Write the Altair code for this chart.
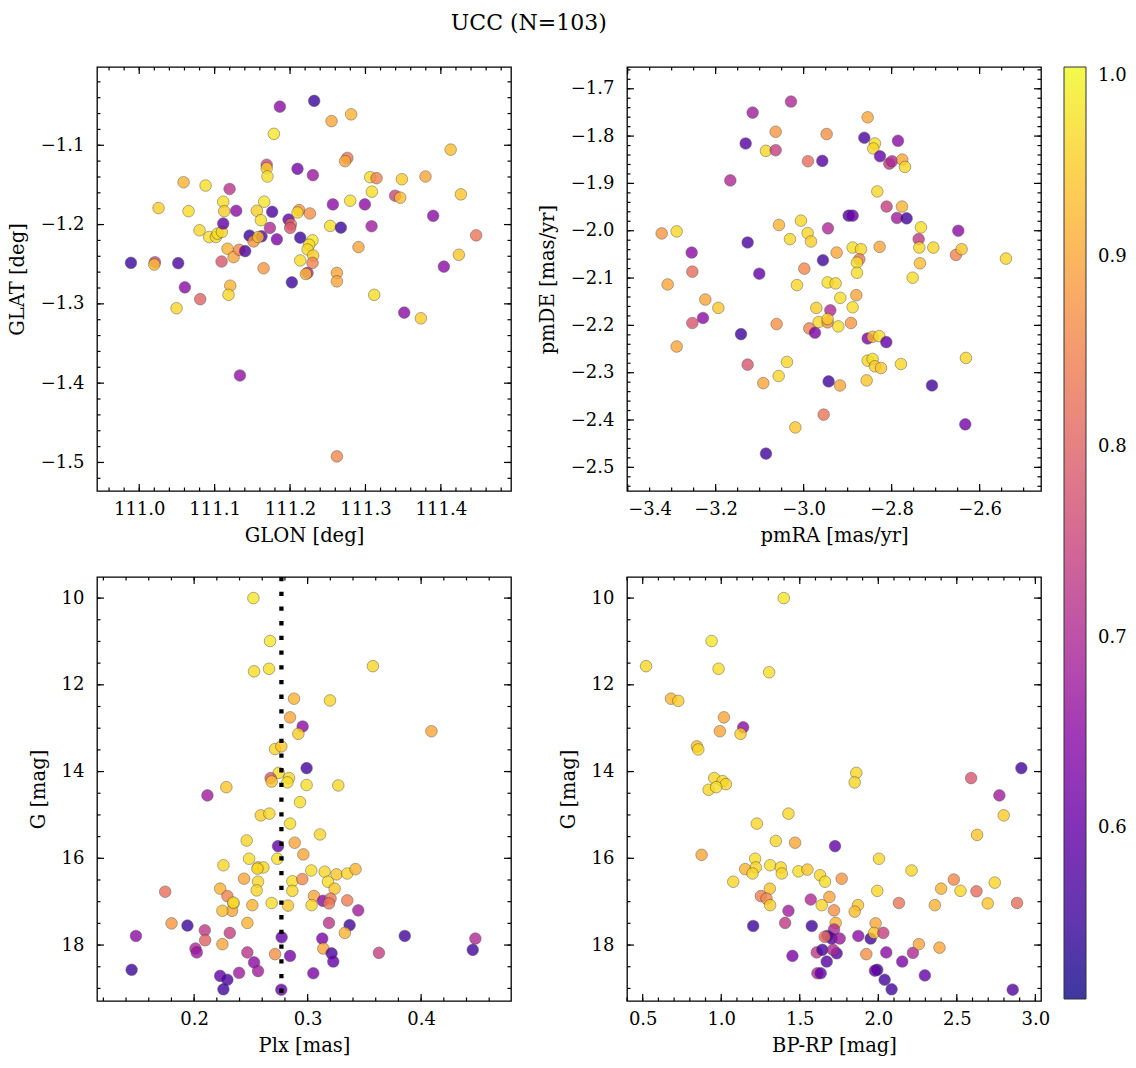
import altair as alt
import pandas as pd
import numpy as np

FONT = "DejaVu Serif"

# ---------------- Panel 1: GLON / GLAT ----------------
glon = [111.1865, 111.232, 111.255, 111.281, 111.1786, 111.413, 111.276, 111.273, 111.169, 111.169,
        111.170, 111.2099, 111.2303, 111.0588, 111.088, 111.1198, 111.3063, 111.3147, 111.3483, 111.3796,
        111.3085, 111.4265, 111.3394, 111.3461, 111.0256, 111.0654, 111.1114, 111.1127, 111.1286, 111.156,
        111.1657, 111.1763, 111.1613, 111.1733, 111.1825, 111.198, 111.2011, 111.2002, 111.2121, 111.2099,
        111.2263, 111.2135, 111.2532, 111.2674, 111.2568, 111.2798, 111.2992, 111.3081, 111.3898, 111.4468,
        111.2908, 111.4238, 111.404, 110.989, 111.0208, 111.0199, 111.0517, 111.08, 111.0928, 111.1017,
        111.1039, 111.1096, 111.1114, 111.1171, 111.1251, 111.1326, 111.1405, 111.1092, 111.1463, 111.1516,
        111.1622, 111.1578, 111.1649, 111.2024, 111.0605, 111.0809, 111.0495, 111.1207, 111.1184, 111.1335,
        111.2232, 111.221, 111.2621, 111.2621, 111.3116, 111.3514, 111.3735, 111.2621, 111.2298, 111.2254,
        111.2232, 111.2307, 111.2135, 111.2298]
glat = [-1.0513, -1.044, -1.0695, -1.061, -1.0856, -1.1055, -1.116, -1.120, -1.1246, -1.129,
        -1.1394, -1.1297, -1.1377, -1.1466, -1.1508, -1.1551, -1.1403, -1.1415, -1.1428, -1.1394,
        -1.1585, -1.1619, -1.1636, -1.1661, -1.1792, -1.1831, -1.1712, -1.1831, -1.1826, -1.1826,
        -1.1712, -1.1839, -1.1945, -1.2042, -1.2186, -1.1936, -1.1996, -1.2042, -1.1818, -1.1848,
        -1.186, -1.2165, -1.2017, -1.2038, -1.1746, -1.1699, -1.1746, -1.2021, -1.189, -1.2136,
        -1.2284, -1.2381, -1.253, -1.2483, -1.2475, -1.2504, -1.2487, -1.2072, -1.2157, -1.2157,
        -1.2114, -1.2093, -1.1987, -1.2305, -1.2411, -1.2318, -1.2335, -1.2466, -1.214, -1.2212,
        -1.2148, -1.2157, -1.2551, -1.2729, -1.2792, -1.2941, -1.3055, -1.2771, -1.2886, -1.3903,
        -1.261, -1.2623, -1.261, -1.2716, -1.2886, -1.311, -1.3182, -1.4924, -1.2199, -1.2254,
        -1.2314, -1.2390, -1.2453, -1.2483]
prob_pos = [0.65, 0.55, 0.90, 0.92, 0.98, 0.93, 0.83, 0.90, 0.75, 0.95,
            0.97, 0.62, 0.67, 0.92, 0.97, 0.72, 0.97, 0.85, 0.95, 0.90,
            0.97, 0.94, 0.75, 0.93, 0.95, 0.97, 0.97, 0.95, 0.65, 0.95,
            0.98, 0.57, 0.97, 0.70, 0.63, 0.60, 0.82, 0.78, 0.88, 0.96,
            0.87, 0.55, 0.97, 0.55, 0.65, 0.97, 0.65, 0.68, 0.65, 0.83,
            0.90, 0.94, 0.65, 0.55, 0.75, 0.93, 0.57, 0.96, 0.97, 0.96,
            0.97, 0.96, 0.60, 0.92, 0.90, 0.86, 0.57, 0.78, 0.55, 0.88,
            0.58, 0.93, 0.88, 0.55, 0.65, 0.80, 0.96, 0.92, 0.96, 0.66,
            0.70, 0.92, 0.90, 0.90, 0.97, 0.65, 0.95, 0.86, 0.98, 0.97,
            0.96, 0.95, 0.97, 0.85]

# ---------------- Panel 2: pmRA / pmDE ----------------
pmra = [-3.0288, -3.1159, -2.8545, -3.0636, -2.9477, -3.1318, -3.0856, -3.0636, -2.9902, -2.9576,
        -2.8621, -2.8379, -2.8417, -2.8265, -2.7856, -2.8053, -2.7992, -2.7758, -2.7697, -3.1667,
        -2.8326, -2.8114, -2.7765, -2.8977, -2.8886, -2.7879, -2.7659, -2.7333, -3.3227, -3.2886,
        -3.1273, -3.0561, -3.0061, -3.0311, -2.9909, -2.9833, -2.9447, -3.2545, -2.7386, -2.7371,
        -2.7053, -2.6485, -2.6538, -2.6409, -2.5402, -2.925, -2.8886, -2.8697, -2.8273, -2.7356,
        -2.9561, -2.8735, -2.8788, -3.253, -2.9985, -3.1008, -2.8788, -2.7523, -3.3091, -3.0152,
        -2.9455, -2.9273, -3.2235, -3.1939, -2.9167, -2.8803, -2.9712, -2.9394, -2.8886, -3.253,
        -3.2288, -3.0614, -3.1424, -3.2886, -2.9871, -2.9742, -2.9659, -2.9455, -2.9455, -2.9212,
        -2.8924, -2.8545, -2.8432, -2.8280, -2.8121, -2.8545, -2.8432, -2.8379, -2.8242, -2.7788,
        -2.8568, -2.9432, -2.9174, -2.7083, -2.6311, -2.6326, -3.0379, -3.0568, -3.0917, -3.1273,
        -2.9545, -3.0189, -3.0856]
pmde = [-1.727, -1.7504, -1.7603, -1.7908, -1.7957, -1.8156, -1.8312, -1.8298, -1.8532, -1.8525,
        -1.8035, -1.8156, -1.8262, -1.8426, -1.8099, -1.8582, -1.8532, -1.8496, -1.8652, -1.8936,
        -1.917, -1.9489, -1.9489, -1.9681, -1.9681, -1.9730, -1.9738, -1.9929, -2.0057, -2.0014,
        -2.0248, -1.9879, -1.9787, -2.0177, -2.005, -2.0227, -1.995, -2.0461, -2.0177, -2.0355,
        -2.0355, -2.0, -2.0511, -2.039, -2.0589, -2.0461, -2.0355, -2.039, -2.034, -2.0688,
        -2.0624, -2.0603, -2.0674, -2.0865, -2.0801, -2.0908, -2.0887, -2.0993, -2.1135, -2.1149,
        -2.1092, -2.1113, -2.1454, -2.1631, -2.1418, -2.1362, -2.1631, -2.1681, -2.1617, -2.195,
        -2.1844, -2.1972, -2.2185, -2.2447, -2.2064, -2.2156, -2.1929, -2.1936, -2.1865, -2.2021,
        -2.195, -2.2277, -2.2241, -2.2227, -2.2355, -2.2745, -2.271, -2.2865, -2.2901, -2.2816,
        -2.3163, -2.3184, -2.3270, -2.3270, -2.2688, -2.4092, -2.2773, -2.307, -2.3220, -2.2830,
        -2.3886, -2.4156, -2.4709]
prob_pm = [0.70, 0.68, 0.90, 0.88, 0.87, 0.58, 0.96, 0.74, 0.82, 0.58,
           0.57, 0.97, 0.96, 0.60, 0.65, 0.73, 0.70, 0.90, 0.96, 0.70,
           0.96, 0.74, 0.92, 0.58, 0.60, 0.68, 0.56, 0.97, 0.88, 0.96,
           0.57, 0.92, 0.96, 0.96, 0.96, 0.95, 0.70, 0.65, 0.73, 0.96,
           0.96, 0.65, 0.85, 0.94, 0.96, 0.90, 0.97, 0.96, 0.90, 0.93,
           0.56, 0.83, 0.97, 0.82, 0.86, 0.60, 0.97, 0.97, 0.90, 0.96,
           0.97, 0.96, 0.90, 0.94, 0.97, 0.90, 0.95, 0.70, 0.97, 0.78,
           0.65, 0.87, 0.55, 0.90, 0.85, 0.63, 0.96, 0.87, 0.95, 0.97,
           0.88, 0.63, 0.92, 0.97, 0.60, 0.96, 0.97, 0.95, 0.94, 0.96,
           0.94, 0.56, 0.90, 0.56, 0.96, 0.62, 0.96, 0.96, 0.90, 0.78,
           0.83, 0.94, 0.56]

# ---------------- Panel 3: Plx / G ----------------
plx = [0.2522, 0.2669, 0.2528, 0.266, 0.3575, 0.288, 0.3197, 0.2845, 0.2956, 0.2918,
       0.4091, 0.2713, 0.2768, 0.2991, 0.2745, 0.2674, 0.2683, 0.2836, 0.2821, 0.2991,
       0.327, 0.2284, 0.2117, 0.2933, 0.2587, 0.2663, 0.2845, 0.3109, 0.2463, 0.2739,
       0.2886, 0.2962, 0.2733, 0.2484, 0.2258, 0.2563, 0.261, 0.2557, 0.244, 0.2563,
       0.2551, 0.2865, 0.2953, 0.2865, 0.3032, 0.315, 0.3179, 0.3255, 0.3238, 0.3349,
       0.3422, 0.2229, 0.2293, 0.2346, 0.2334, 0.2249, 0.2346, 0.2513, 0.2683, 0.2827,
       0.3056, 0.3035, 0.3135, 0.3202, 0.3188, 0.3349, 0.3446, 0.1745, 0.1801, 0.1941,
       0.2094, 0.2097, 0.2314, 0.2469, 0.1487, 0.1449, 0.2012, 0.2023, 0.2249, 0.2229,
       0.2293, 0.2258, 0.2396, 0.2469, 0.2528, 0.2563, 0.2713, 0.2771, 0.2845, 0.2768,
       0.305, 0.3129, 0.3188, 0.3138, 0.3211, 0.3226, 0.3370, 0.3328, 0.3628, 0.3856,
       0.4478, 0.4455]
g_plx = [10.0, 10.99, 11.69, 11.63, 11.57, 12.32, 12.36, 12.75, 12.96, 13.13,
         13.07, 13.48, 13.42, 13.92, 14.03, 14.15, 14.23, 14.15, 14.25, 14.31,
         14.32, 14.36, 14.55, 14.705, 15.01, 14.97, 15.20, 15.45, 15.59, 15.72,
         15.64, 15.91, 16.01, 16.01, 16.16, 16.21, 16.21, 16.24, 16.47, 16.54,
         16.74, 16.53, 16.48, 16.75, 16.28, 16.31, 16.54, 16.37, 16.70, 16.35,
         16.25, 16.70, 16.87, 17.04, 17.21, 17.21, 17.02, 17.08, 17.03, 17.09,
         16.87, 17.08, 16.98, 16.93, 17.04, 16.97, 17.20, 16.77, 17.50, 17.55,
         17.66, 17.89, 17.72, 17.49, 17.79, 18.57, 18.08, 18.17, 17.98, 18.71,
         18.80, 19.02, 18.64, 18.17, 18.40, 18.60, 18.21, 17.82, 18.25, 19.03,
         18.65, 17.85, 17.49, 18.08, 18.19, 18.38, 17.54, 17.72, 18.18, 17.79,
         17.85, 18.11]
prob_plx = [0.98, 0.98, 0.97, 0.97, 0.96, 0.92, 0.96, 0.90, 0.65, 0.95,
            0.90, 0.96, 0.94, 0.56, 0.97, 0.78, 0.94, 0.96, 0.97, 0.97,
            0.96, 0.94, 0.68, 0.97, 0.95, 0.96, 0.97, 0.96, 0.96, 0.60,
            0.90, 0.90, 0.97, 0.97, 0.96, 0.96, 0.96, 0.96, 0.90, 0.96,
            0.96, 0.97, 0.86, 0.96, 0.97, 0.96, 0.97, 0.94, 0.94, 0.96,
            0.92, 0.92, 0.85, 0.93, 0.90, 0.93, 0.97, 0.92, 0.97, 0.94,
            0.90, 0.96, 0.65, 0.83, 0.83, 0.84, 0.68, 0.82, 0.88, 0.55,
            0.73, 0.80, 0.74, 0.92, 0.65, 0.55, 0.70, 0.67, 0.90, 0.60,
            0.57, 0.56, 0.68, 0.72, 0.65, 0.68, 0.87, 0.60, 0.62, 0.60,
            0.63, 0.63, 0.72, 0.90, 0.57, 0.60, 0.56, 0.92, 0.74, 0.56,
            0.70, 0.56]
plx_median = [0.2769]

# ---------------- Panel 4: BP-RP / G ----------------
bprp = [1.398, 0.9386, 0.5212, 0.983, 1.305, 0.68, 0.7267, 1.017, 0.9915, 1.1398,
        1.1229, 0.8453, 0.8538, 1.86, 1.8496, 2.591, 2.911, 0.9555, 1.0085, 1.0297,
        0.9195, 0.968, 2.771, 2.7987, 1.428, 1.2267, 2.629, 1.3475, 1.4703, 1.7246,
        0.875, 1.2161, 2.0042, 1.1525, 1.2203, 1.1992, 1.3114, 1.3792, 1.3856, 1.4915,
        1.5487, 1.6292, 1.661, 1.7669, 2.2119, 1.0763, 1.3093, 1.9936, 2.4809, 2.4004,
        2.5233, 2.625, 2.7415, 2.697, 2.8835, 2.3602, 2.1314, 1.2521, 1.2881, 1.3114,
        1.5699, 1.428, 1.4068, 1.6398, 1.6886, 1.7182, 1.8708, 1.8496, 1.7288, 1.2034,
        1.5763, 1.7182, 1.6758, 1.7034, 1.6589, 1.7542, 1.4534, 1.608, 1.644, 1.7352,
        1.7119, 1.6716, 1.6123, 1.6335, 1.8729, 1.9513, 1.983, 1.9725, 2.0318, 1.9237,
        2.0508, 1.9936, 1.9788, 2.0403, 2.0847, 2.1525, 2.2203, 2.2585, 2.2966, 2.3898,
        2.8559]
g_cmd = [10.0, 10.99, 11.57, 11.63, 11.71, 12.32, 12.37, 12.75, 13.07, 12.98,
         13.13, 13.42, 13.49, 14.03, 14.25, 14.15, 13.92, 14.15, 14.22, 14.29,
         14.42, 14.36, 14.55, 15.01, 14.97, 15.20, 15.46, 15.60, 15.64, 15.72,
         15.92, 16.01, 16.01, 16.25, 16.21, 16.35, 16.16, 16.21, 16.35, 16.30,
         16.26, 16.39, 16.54, 16.47, 16.28, 16.54, 16.70, 16.75, 16.49, 16.70,
         16.75, 16.76, 16.56, 17.04, 17.03, 17.08, 17.03, 16.87, 16.93, 17.08,
         16.95, 17.21, 17.49, 17.08, 16.89, 17.20, 17.08, 17.23, 17.49, 17.56,
         17.56, 17.64, 17.79, 17.85, 17.81, 17.85, 18.25, 18.17, 18.11, 18.19,
         18.11, 18.38, 18.65, 18.65, 17.79, 17.85, 17.50, 17.72, 17.72, 18.21,
         18.17, 18.57, 18.59, 18.80, 19.02, 18.38, 18.18, 17.98, 18.70, 18.06,
         19.03]
prob_cmd = [0.98, 0.98, 0.96, 0.97, 0.97, 0.92, 0.95, 0.90, 0.90, 0.65,
            0.95, 0.93, 0.96, 0.96, 0.96, 0.78, 0.56, 0.96, 0.96, 0.96,
            0.96, 0.97, 0.68, 0.95, 0.96, 0.96, 0.94, 0.96, 0.90, 0.60,
            0.90, 0.97, 0.96, 0.92, 0.96, 0.96, 0.97, 0.96, 0.96, 0.97,
            0.94, 0.96, 0.97, 0.88, 0.96, 0.96, 0.94, 0.96, 0.86, 0.92,
            0.96, 0.82, 0.96, 0.94, 0.82, 0.92, 0.83, 0.84, 0.86, 0.95,
            0.70, 0.68, 0.73, 0.96, 0.90, 0.87, 0.94, 0.93, 0.92, 0.55,
            0.56, 0.70, 0.58, 0.58, 0.82, 0.67, 0.63, 0.73, 0.56, 0.58,
            0.70, 0.58, 0.70, 0.60, 0.65, 0.56, 0.90, 0.94, 0.74, 0.87,
            0.65, 0.56, 0.60, 0.56, 0.56, 0.63, 0.70, 0.90, 0.60, 0.90,
            0.58]

PROB_DOMAIN = [0.51, 1.0]
CBAR_TICKS = [0.6, 0.7, 0.8, 0.9, 1.0]

W, H = 414, 424
MAJ_LEN, MIN_LEN = 7, 3.5


def ticks(lo, hi, step):
    n0 = int(np.ceil(lo / step - 1e-9))
    n1 = int(np.floor(hi / step + 1e-9))
    return [round(k * step, 6) for k in range(n0, n1 + 1)]


color_enc = alt.Color(
    "p:Q",
    scale=alt.Scale(scheme="plasma", domain=PROB_DOMAIN),
    legend=alt.Legend(
        title=None, orient="none", direction="vertical", legendX=967, legendY=0,
        gradientLength=932, gradientThickness=22, gradientOpacity=0.8,
        gradientStrokeColor="black", gradientStrokeWidth=1,
        values=CBAR_TICKS, format=".1f", labelFontSize=18, labelFont=FONT,
        labelColor="black", labelOffset=12,
    ),
)


def panel(df, xdom, ydom, xstep, xminor, ystep, yminor, xtitle, ytitle, xfmt, yfmt,
          yrev=False, vline=None):
    xs = alt.Scale(domain=xdom, zero=False, nice=False)
    ys = alt.Scale(domain=ydom, zero=False, nice=False, reverse=yrev)
    xmaj = ticks(xdom[0], xdom[1], xstep)
    ymaj = ticks(ydom[0], ydom[1], ystep)
    xmin = ticks(xdom[0], xdom[1], xminor)
    ymin = ticks(ydom[0], ydom[1], yminor)

    # data units per pixel, used to give the inward ticks a fixed pixel length
    dxpp = (xdom[1] - xdom[0]) / W
    dypp = (ydom[1] - ydom[0]) / H
    y_bot = ydom[1] if yrev else ydom[0]
    y_top = ydom[0] if yrev else ydom[1]
    up = -1.0 if yrev else 1.0

    xaxis = alt.Axis(orient="bottom", title=xtitle, values=xmaj, format=xfmt, ticks=False,
                     tickSize=0, labelPadding=9, titlePadding=8)
    yaxis = alt.Axis(orient="left", title=ytitle, values=ymaj, format=yfmt, ticks=False,
                     tickSize=0, labelPadding=13, titlePadding=13)

    main = alt.Chart(df).mark_circle(size=135, opacity=0.8, stroke="#333333", strokeWidth=0.5).encode(
        x=alt.X("x:Q", scale=xs, axis=xaxis),
        y=alt.Y("y:Q", scale=ys, axis=yaxis),
        color=color_enc,
    )

    def x_ticks(values, edge, direction, length):
        return alt.Chart(pd.DataFrame({"x": values})).transform_calculate(
            y=f"{edge}", y2=f"{edge + direction * length * dypp}"
        ).mark_rule(color="black", strokeWidth=1.2).encode(
            x=alt.X("x:Q", scale=xs, axis=xaxis),
            y=alt.Y("y:Q", scale=ys, axis=yaxis),
            y2="y2:Q",
        )

    def y_ticks(values, edge, direction, length):
        return alt.Chart(pd.DataFrame({"y": values})).transform_calculate(
            x=f"{edge}", x2=f"{edge + direction * length * dxpp}"
        ).mark_rule(color="black", strokeWidth=1.2).encode(
            y=alt.Y("y:Q", scale=ys, axis=yaxis),
            x=alt.X("x:Q", scale=xs, axis=xaxis),
            x2="x2:Q",
        )

    layers = [
        main,
        x_ticks(xmaj, y_bot, up, MAJ_LEN), x_ticks(xmin, y_bot, up, MIN_LEN),
        x_ticks(xmaj, y_top, -up, MAJ_LEN), x_ticks(xmin, y_top, -up, MIN_LEN),
        y_ticks(ymaj, xdom[0], 1.0, MAJ_LEN), y_ticks(ymin, xdom[0], 1.0, MIN_LEN),
        y_ticks(ymaj, xdom[1], -1.0, MAJ_LEN), y_ticks(ymin, xdom[1], -1.0, MIN_LEN),
    ]
    if vline is not None:
        rule = alt.Chart(pd.DataFrame({"x": vline})).mark_rule(
            color="black", strokeWidth=4.3, strokeDash=[4.3, 10.4]
        ).encode(x=alt.X("x:Q", scale=xs, axis=xaxis))
        layers.append(rule)
    return alt.layer(*layers).properties(width=W, height=H)


df1 = pd.DataFrame({"x": glon, "y": glat, "p": prob_pos})
df2 = pd.DataFrame({"x": pmra, "y": pmde, "p": prob_pm})
df3 = pd.DataFrame({"x": plx, "y": g_plx, "p": prob_plx})
df4 = pd.DataFrame({"x": bprp, "y": g_cmd, "p": prob_cmd})

p1 = panel(df1, [110.944, 111.493], [-1.536, -1.0013], 0.1, 0.02, 0.1, 0.02,
           "GLON [deg]", "GLAT [deg]", ".1f", ".1f")
p2 = panel(df2, [-3.4015, -2.4605], [-2.55, -1.654], 0.2, 0.05, 0.1, 0.02,
           "pmRA [mas/yr]", "pmDE [mas/yr]", ".1f", ".1f")
p3 = panel(df3, [0.1144, 0.4792], [9.514, 19.29], 0.1, 0.02, 2, 0.5,
           "Plx [mas]", "G [mag]", ".1f", "d", yrev=True, vline=plx_median)
p4 = panel(df4, [0.400, 3.036], [9.514, 19.29], 0.5, 0.1, 2, 0.5,
           "BP-RP [mag]", "G [mag]", ".1f", "d", yrev=True)

chart = alt.concat(
    p1, p2, p3, p4, columns=2, bounds="flush",
    spacing=alt.RowColnumber(row=86, column=116),
).properties(
    title=alt.TitleParams("UCC (N=103)", font=FONT, fontSize=22, fontWeight="normal",
                          anchor="middle", color="black", offset=31, dx=-38),
    padding={"left": 6, "top": 11, "right": 5, "bottom": 5},
    background="white",
).configure_axis(
    grid=False, domain=False, labelFont=FONT, titleFont=FONT, labelFontSize=18,
    titleFontSize=19.5, labelColor="black", titleColor="black", tickColor="black",
    tickWidth=1, titleFontWeight="normal",
).configure_view(
    stroke="black", strokeWidth=1.3,
)

chart.save("out.html", embed_options={"renderer": "svg", "actions": False})
